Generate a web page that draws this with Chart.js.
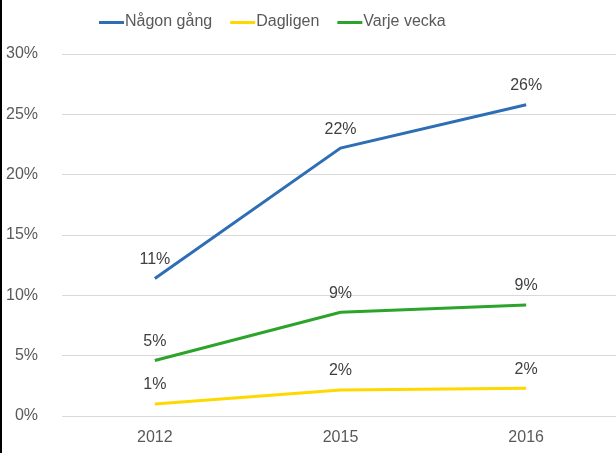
<!DOCTYPE html>
<html>
<head>
<meta charset="utf-8">
<script src="https://cdn.jsdelivr.net/npm/chart.js@4/dist/chart.umd.min.js"></script>
<style>
  html, body { margin: 0; padding: 0; background: #fff; overflow: hidden; }
  #wrap { position: relative; width: 616px; height: 453px; overflow: hidden; }
  #c { position: absolute; left: 0; top: 0; }
  #edge { position: absolute; left: 0; top: 0; width: 2px; height: 453px; background: #000; }
</style>
</head>
<body>
<div id="wrap">
  <canvas id="c" width="619" height="453"></canvas>
  <div id="edge"></div>
</div>
<script>
const categories = ["2012", "2015", "2016"];
const seriesNames = ["Någon gång", "Dagligen", "Varje vecka"];
const nagonGang = [11.4, 22.2, 25.8];
const dagligen = [1.0, 2.15, 2.3];
const varjeVecka = [4.6, 8.6, 9.2];
const yTicks = [0, 5, 10, 15, 20, 25, 30];

const FONT = "'Liberation Sans', Arial, sans-serif";

const valueLabels = {
  id: 'valueLabels',
  afterDatasetsDraw(chart) {
    const ctx = chart.ctx;
    ctx.save();
    ctx.font = "16px " + FONT;
    ctx.fillStyle = '#404040';
    ctx.textAlign = 'center';
    ctx.textBaseline = 'middle';
    chart.data.datasets.forEach((ds, i) => {
      const meta = chart.getDatasetMeta(i);
      meta.data.forEach((pt, j) => {
        ctx.fillText(Math.round(ds.data[j]) + '%', pt.x, pt.y - 19);
      });
    });
    ctx.restore();
  }
};

const customLegend = {
  id: 'customLegend',
  afterDraw(chart) {
    const ctx = chart.ctx;
    ctx.save();
    ctx.font = "16px " + FONT;
    ctx.textAlign = 'left';
    ctx.textBaseline = 'middle';
    let x = 99;
    const y = 22;
    chart.data.datasets.forEach((ds) => {
      ctx.fillStyle = ds.borderColor;
      ctx.fillRect(x, y - 1, 25, 3);
      ctx.fillStyle = '#595959';
      ctx.fillText(ds.label, x + 26, y);
      x += 26 + ctx.measureText(ds.label).width + 18;
    });
    ctx.restore();
  }
};

new Chart(document.getElementById('c'), {
  type: 'line',
  data: {
    labels: categories,
    datasets: [
      { label: seriesNames[0], data: nagonGang, borderColor: '#2E6EB5', backgroundColor: '#2E6EB5' },
      { label: seriesNames[1], data: dagligen, borderColor: '#FFD800', backgroundColor: '#FFD800' },
      { label: seriesNames[2], data: varjeVecka, borderColor: '#2CA42C', backgroundColor: '#2CA42C' }
    ]
  },
  options: {
    responsive: false,
    animation: false,
    devicePixelRatio: 1,
    elements: {
      line: { borderWidth: 3, tension: 0 },
      point: { radius: 0, hoverRadius: 0 }
    },
    layout: { padding: { left: 0, right: 0, top: 54, bottom: 0 } },
    plugins: {
      tooltip: { enabled: false },
      legend: { display: false }
    },
    scales: {
      x: {
        offset: true,
        grid: { display: false, drawTicks: false },
        border: { display: false },
        ticks: { color: '#595959', font: { family: FONT, size: 16 }, padding: 12 },
        afterFit: (scale) => { scale.height = 37; }
      },
      y: {
        min: 0,
        max: 30,
        afterBuildTicks: (scale) => { scale.ticks = yTicks.map(v => ({ value: v })); },
        grid: { color: '#D9D9D9', lineWidth: 1, drawTicks: false },
        border: { display: false },
        ticks: {
          color: '#595959',
          font: { family: FONT, size: 16 },
          padding: 24,
          callback: (v) => v + '%'
        },
        afterFit: (scale) => { scale.width = 62; }
      }
    }
  },
  plugins: [valueLabels, customLegend]
});
</script>
</body>
</html>
